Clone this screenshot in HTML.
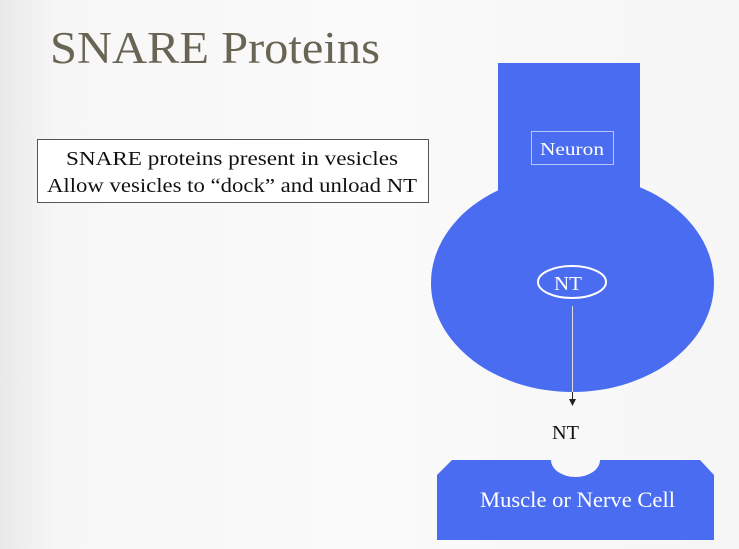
<!DOCTYPE html>
<html><head><style>
body{margin:0;width:739px;height:549px;overflow:hidden;background:linear-gradient(90deg,#e9e9e9 0%,#f7f7f7 8%,#fafafa 50%,#f6f6f6 100%);font-family:"Liberation Serif",serif;}
</style></head><body>
<svg width="739" height="549" style="position:absolute;left:0;top:0">
<text x="50" y="63" font-size="45" fill="#696555" font-family="Liberation Serif" textLength="330" lengthAdjust="spacingAndGlyphs">SNARE Proteins</text>
<rect x="37.5" y="139.5" width="391" height="63" fill="#fff" stroke="#555" stroke-width="1"/>
<text x="66" y="165" font-size="20" fill="#111" textLength="332" lengthAdjust="spacingAndGlyphs">SNARE proteins present in vesicles</text>
<text x="47" y="192" font-size="20" fill="#111" textLength="370" lengthAdjust="spacingAndGlyphs">Allow vesicles to “dock” and unload NT</text>
<ellipse cx="572.5" cy="283" rx="141.5" ry="109" fill="#4a6cf0"/>
<rect x="498" y="63" width="142" height="140" fill="#4a6cf0"/>
<rect x="531.5" y="131.5" width="82" height="33" fill="none" stroke="#b8c4f8" stroke-width="1"/>
<text x="540" y="155" font-size="18" fill="#fff" textLength="64" lengthAdjust="spacingAndGlyphs">Neuron</text>
<ellipse cx="572" cy="282" rx="34" ry="16" fill="none" stroke="#fff" stroke-width="2"/>
<text x="554" y="290" font-size="20" fill="#fff" textLength="28" lengthAdjust="spacingAndGlyphs">NT</text>
<line x1="572.5" y1="306" x2="572.5" y2="400" stroke="#ddd" stroke-width="1"/>
<line x1="572.5" y1="392" x2="572.5" y2="400" stroke="#222" stroke-width="1"/>
<polygon points="569,399 576,399 572.5,406" fill="#222"/>
<text x="552" y="439" font-size="20" fill="#111" textLength="27" lengthAdjust="spacingAndGlyphs">NT</text>
<path d="M437,475 L452,460 L551,460 A24.5,17 0 0 0 600,460 L700,460 L714,475 L714,540 L437,540 Z" fill="#4a6cf0"/>
<text x="480" y="507" font-size="22" fill="#fff" textLength="195" lengthAdjust="spacingAndGlyphs">Muscle or Nerve Cell</text>
</svg>
</body></html>
